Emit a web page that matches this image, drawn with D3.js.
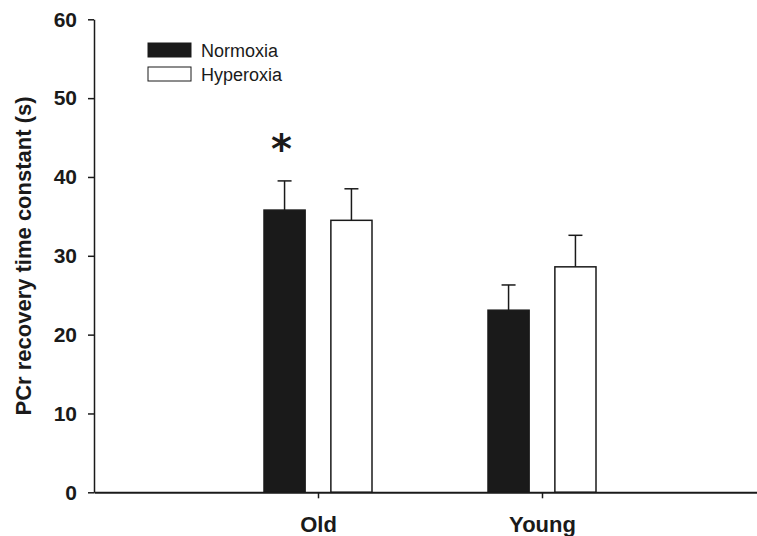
<!DOCTYPE html>
<html>
<head>
<meta charset="utf-8">
<script src="https://cdn.jsdelivr.net/npm/d3@7"></script>
<style>
  body { margin: 0; background: #fff; }
  svg { display: block; font-family: "Liberation Sans", Arial, sans-serif; }
</style>
</head>
<body>
<div id="chart"></div>
<script>
// data
const groups = ["Old", "Young"];
const conditions = ["Normoxia", "Hyperoxia"];
const normoxiaMean = [35.8, 23.1];
const normoxiaErr = [3.7, 3.2];
const hyperoxiaMean = [34.5, 28.6];
const hyperoxiaErr = [4.0, 4.0];
const yTicks = [0, 10, 20, 30, 40, 50, 60];
const significant = ["Old"]; // asterisk over normoxia bar

const width = 757, height = 536;
const ink = "#1a1a1a";

const svg = d3.select("#chart").append("svg")
  .attr("width", width)
  .attr("height", height);

// scales
const y = d3.scaleLinear().domain([0, 60]).range([492.3, 19.3]);
const x = d3.scalePoint().domain(groups).range([94, 766]).padding(1);
const xSub = d3.scaleBand().domain(conditions).range([-54, 54]).paddingInner(0.385);

// rows for drawing
const rows = [];
groups.forEach((g, i) => {
  rows.push({ group: g, cond: "Normoxia", mean: normoxiaMean[i], err: normoxiaErr[i] });
  rows.push({ group: g, cond: "Hyperoxia", mean: hyperoxiaMean[i], err: hyperoxiaErr[i] });
});
const fillFor = c => c === "Normoxia" ? ink : "#fff";

// error bars (drawn first so bar tops sit over the stems)
const capW = 14;
const eb = svg.append("g").attr("stroke", ink).attr("stroke-width", 1.5);
rows.forEach(d => {
  const cx = x(d.group) + xSub(d.cond) + xSub.bandwidth() / 2;
  eb.append("line")
    .attr("x1", cx).attr("x2", cx)
    .attr("y1", y(d.mean)).attr("y2", y(d.mean + d.err));
  eb.append("line")
    .attr("x1", cx - capW / 2).attr("x2", cx + capW / 2)
    .attr("y1", y(d.mean + d.err)).attr("y2", y(d.mean + d.err));
});

// bars
svg.append("g").selectAll("rect")
  .data(rows)
  .join("rect")
  .attr("x", d => x(d.group) + xSub(d.cond))
  .attr("width", xSub.bandwidth())
  .attr("y", d => y(d.mean))
  .attr("height", d => y(0) - y(d.mean))
  .attr("fill", d => fillFor(d.cond))
  .attr("stroke", ink)
  .attr("stroke-width", 1.5);

// significance asterisk
rows.filter(d => d.cond === "Normoxia" && significant.includes(d.group)).forEach(d => {
  svg.append("text")
    .attr("x", x(d.group) + xSub(d.cond) + xSub.bandwidth() / 2 - 3)
    .attr("y", 163)
    .attr("text-anchor", "middle")
    .attr("font-family", "DejaVu Sans, sans-serif")
    .attr("font-size", 40)
    .attr("font-weight", "bold")
    .attr("fill", ink)
    .text("*");
});

// y axis
const yAxis = svg.append("g")
  .attr("transform", "translate(94,0)")
  .call(d3.axisLeft(y).tickValues(yTicks).tickSize(6).tickSizeOuter(0).tickPadding(11));
yAxis.select(".domain").attr("stroke", ink).attr("stroke-width", 1.5);
yAxis.selectAll(".tick line").attr("stroke", ink).attr("stroke-width", 1.5);
yAxis.selectAll(".tick text")
  .attr("font-size", 21).attr("font-weight", "bold").attr("fill", ink)
  .attr("font-family", "Liberation Sans, Arial, sans-serif");

// x axis
const xAxis = svg.append("g")
  .attr("transform", `translate(0,${y(0)})`)
  .call(d3.axisBottom(x).tickSize(6).tickSizeOuter(0).tickPadding(18));
xAxis.select(".domain").attr("stroke", ink).attr("stroke-width", 2);
xAxis.selectAll(".tick line").attr("stroke", ink).attr("stroke-width", 1.5);
xAxis.selectAll(".tick text")
  .attr("font-size", 22).attr("font-weight", "bold").attr("fill", ink)
  .attr("font-family", "Liberation Sans, Arial, sans-serif");

// y label
svg.append("text")
  .attr("transform", "translate(31,256) rotate(-90)")
  .attr("text-anchor", "middle")
  .attr("font-size", 22)
  .attr("font-weight", "bold")
  .attr("fill", ink)
  .text("PCr recovery time constant (s)");

// legend
const legend = svg.append("g").attr("transform", "translate(148,43)");
conditions.forEach((c, i) => {
  const row = legend.append("g").attr("transform", `translate(0,${i * 24})`);
  row.append("rect")
    .attr("width", 43).attr("height", 14)
    .attr("fill", fillFor(c))
    .attr("stroke", ink).attr("stroke-width", 1);
  row.append("text")
    .attr("x", 53).attr("y", 13.5)
    .attr("font-size", 18)
    .attr("fill", ink)
    .text(c);
});
</script>
</body>
</html>
